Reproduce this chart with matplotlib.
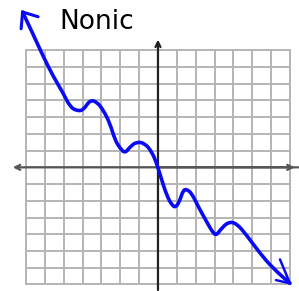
import numpy as np
from matplotlib import pyplot as plt
from matplotlib.path import Path
from matplotlib.patches import PathPatch

TITLE = "Nonic"

# grid runs from -7 to 7 in both directions
GRID_TICKS = list(range(-7, 8))

# hand-drawn curve
curve_x = [-7.18, -6.63, -6.08, -5.55, -5.02, -4.67, -4.29, -3.96, -3.61, -3.25,
           -2.90, -2.55, -2.28, -2.01, -1.75, -1.48, -1.13, -0.69, -0.33, -0.07,
           0.20, 0.46, 0.73, 0.95, 1.17, 1.34, 1.52, 1.79, 2.14, 2.58,
           2.93, 3.11, 3.29, 3.73, 4.17, 4.70, 5.41, 6.11, 7.00]
curve_y = [9.28, 7.97, 6.61, 5.42, 4.42, 3.62, 3.37, 3.42, 4.02, 3.92,
           3.42, 2.63, 1.63, 1.14, 0.84, 1.23, 1.53, 1.43, 0.93, 0.24,
           -0.76, -1.66, -2.25, -2.41, -1.95, -1.36, -1.31, -1.55, -2.36, -3.25,
           -3.94, -4.05, -3.75, -3.25, -3.35, -4.05, -5.14, -6.04, -6.93]

# arrow head arms at both ends of the curve
head_start_x = [-6.36, -7.18, -7.26]
head_start_y = [9.00, 9.28, 8.28]
head_end_x = [6.47, 7.00, 6.26]
head_end_y = [-5.50, -6.93, -6.74]

BLUE = "#0a0af5"


def draw_grid(ax):
    for t in GRID_TICKS:
        ax.plot([t, t], [-7, 7], color="#b4b4b4", lw=1.4, zorder=1)
        ax.plot([-7, 7], [t, t], color="#b4b4b4", lw=1.4, zorder=1)


def draw_axes(ax):
    ax.annotate("", xy=(-7.85, 0), xytext=(7.6, 0),
                arrowprops=dict(arrowstyle="->", color="#555555", lw=1.6,
                                mutation_scale=9), zorder=2)
    ax.annotate("", xy=(7.4, 0), xytext=(0, 0),
                arrowprops=dict(arrowstyle="->", color="#555555", lw=1.6,
                                mutation_scale=9), zorder=2)
    ax.annotate("", xy=(0, 7.8), xytext=(0, -7.5),
                arrowprops=dict(arrowstyle="->", color="#222222", lw=1.6,
                                mutation_scale=9), zorder=2)


def smooth_path(xs, ys):
    """
    Кривая через середины отрезков, исходные точки - контрольные
    """
    pts = np.column_stack([xs, ys])
    verts = [pts[0]]
    codes = [Path.MOVETO]
    for i in range(1, len(pts) - 1):
        verts += [pts[i], (pts[i] + pts[i + 1]) / 2]
        codes += [Path.CURVE3, Path.CURVE3]
    verts.append(pts[-1])
    codes.append(Path.LINETO)
    return Path(verts, codes)


if __name__ == "__main__":
    fig = plt.figure(figsize=(2.99, 2.91), dpi=100)
    ax = fig.add_axes([0, 0, 1, 1])
    ax.set_xlim(-8.38, 7.48)
    ax.set_ylim(-7.39, 10.0)
    ax.axis("off")

    draw_grid(ax)
    draw_axes(ax)

    ax.add_patch(PathPatch(smooth_path(curve_x, curve_y), facecolor="none",
                           edgecolor=BLUE, lw=2.6, capstyle="round",
                           joinstyle="round", zorder=3))
    ax.plot(head_start_x, head_start_y, color=BLUE, lw=2.2,
            solid_capstyle="round", solid_joinstyle="round", zorder=3)
    ax.plot(head_end_x, head_end_y, color=BLUE, lw=1.8,
            solid_capstyle="round", solid_joinstyle="round", zorder=3)

    ax.text(-3.23, 8.68, TITLE, fontsize=19, ha="center", va="center",
            family="DejaVu Sans", color="black")

    fig.savefig("out.png", dpi=100)
